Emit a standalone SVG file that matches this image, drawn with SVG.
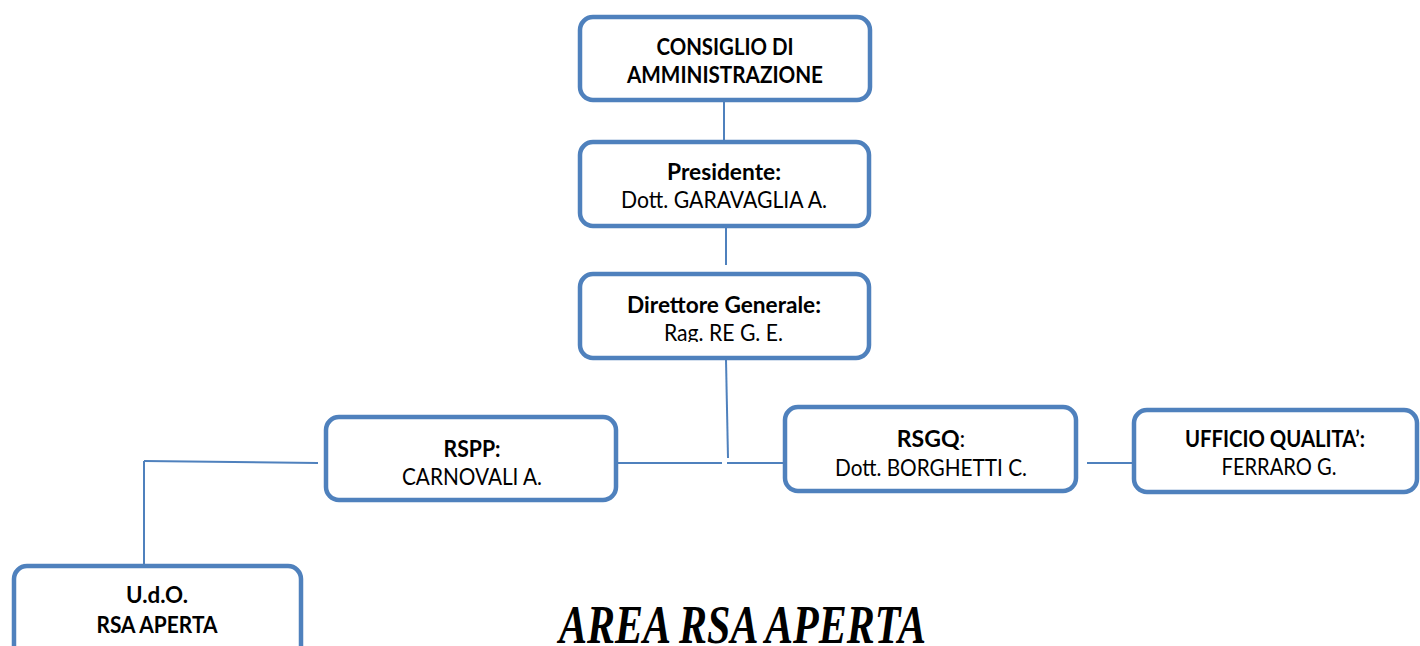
<svg xmlns="http://www.w3.org/2000/svg" width="1420" height="646" viewBox="0 0 1420 646">
  <defs>
    <style>
      .box { fill: #ffffff; stroke: #4F81BD; stroke-width: 4.5; }
      .conn { stroke: #4F81BD; stroke-width: 2; fill: none; }
      .t { font-family: Lato, "Liberation Sans", sans-serif; font-size: 23px; fill: #000000; text-anchor: middle; }
      .b { font-weight: bold; }
      .title { font-family: "Liberation Serif", serif; font-size: 42px; font-weight: bold; font-style: italic; fill: #000000; text-anchor: middle; }
    </style>
    <clipPath id="clipRag">
      <rect x="580" y="274" width="289" height="68"/>
    </clipPath>
  </defs>
  <rect width="1420" height="646" fill="#ffffff"/>

  <g id="connectors">
    <line class="conn" x1="724" y1="102" x2="724" y2="146"/>
    <line class="conn" x1="726" y1="228" x2="726" y2="265"/>
    <line class="conn" x1="726" y1="360" x2="728" y2="458"/>
    <line class="conn" x1="618" y1="463" x2="722" y2="463"/>
    <line class="conn" x1="727" y1="463" x2="785" y2="463"/>
    <line class="conn" x1="1087" y1="463" x2="1133" y2="463"/>
    <line class="conn" x1="318" y1="463" x2="144" y2="461"/>
    <line class="conn" x1="144" y1="461" x2="144" y2="565"/>
  </g>

  <g id="node-consiglio">
    <rect class="box" x="580" y="17" width="290" height="83" rx="13"/>
    <text class="t b" x="725" y="55" textLength="137" lengthAdjust="spacingAndGlyphs">CONSIGLIO DI</text>
    <text class="t b" x="725" y="83" textLength="196" lengthAdjust="spacingAndGlyphs">AMMINISTRAZIONE</text>
  </g>

  <g id="node-presidente">
    <rect class="box" x="580" y="142" width="289" height="84" rx="13"/>
    <text class="t b" x="724" y="180" textLength="114" lengthAdjust="spacingAndGlyphs">Presidente:</text>
    <text class="t" x="724" y="208" textLength="206" lengthAdjust="spacingAndGlyphs">Dott. GARAVAGLIA A.</text>
  </g>

  <g id="node-direttore">
    <rect class="box" x="580" y="274" width="289" height="84" rx="13"/>
    <text class="t b" x="724" y="313" textLength="194" lengthAdjust="spacingAndGlyphs">Direttore Generale:</text>
    <text class="t" x="723.5" y="341" textLength="119" lengthAdjust="spacingAndGlyphs" clip-path="url(#clipRag)">Rag. RE G. E.</text>
  </g>

  <g id="node-rspp">
    <rect class="box" x="326" y="417" width="290" height="83" rx="13"/>
    <text class="t b" x="472" y="457" textLength="57" lengthAdjust="spacingAndGlyphs">RSPP:</text>
    <text class="t" x="472" y="485" textLength="140" lengthAdjust="spacingAndGlyphs">CARNOVALI A.</text>
  </g>

  <g id="node-rsgq">
    <rect class="box" x="785" y="407" width="291" height="84" rx="13"/>
    <text class="t" x="931" y="447"><tspan class="b">RSGQ</tspan>:</text>
    <text class="t" x="931" y="476" textLength="192" lengthAdjust="spacingAndGlyphs">Dott. BORGHETTI C.</text>
  </g>

  <g id="node-ufficio">
    <rect class="box" x="1134" y="410" width="283" height="82" rx="13"/>
    <text class="t b" x="1275" y="447" textLength="180" lengthAdjust="spacingAndGlyphs">UFFICIO QUALITA’:</text>
    <text class="t" x="1279" y="475" textLength="115" lengthAdjust="spacingAndGlyphs">FERRARO G.</text>
  </g>

  <g id="node-udo">
    <rect class="box" x="14" y="566" width="287" height="95" rx="13"/>
    <text class="t b" x="157" y="603" textLength="62" lengthAdjust="spacingAndGlyphs">U.d.O.</text>
    <text class="t b" x="157" y="633" textLength="121" lengthAdjust="spacingAndGlyphs">RSA APERTA</text>
  </g>

  <g id="title">
    <text class="title" transform="translate(742.5,643) scale(1,1.3)" x="0" y="0">AREA RSA APERTA</text>
  </g>
</svg>
